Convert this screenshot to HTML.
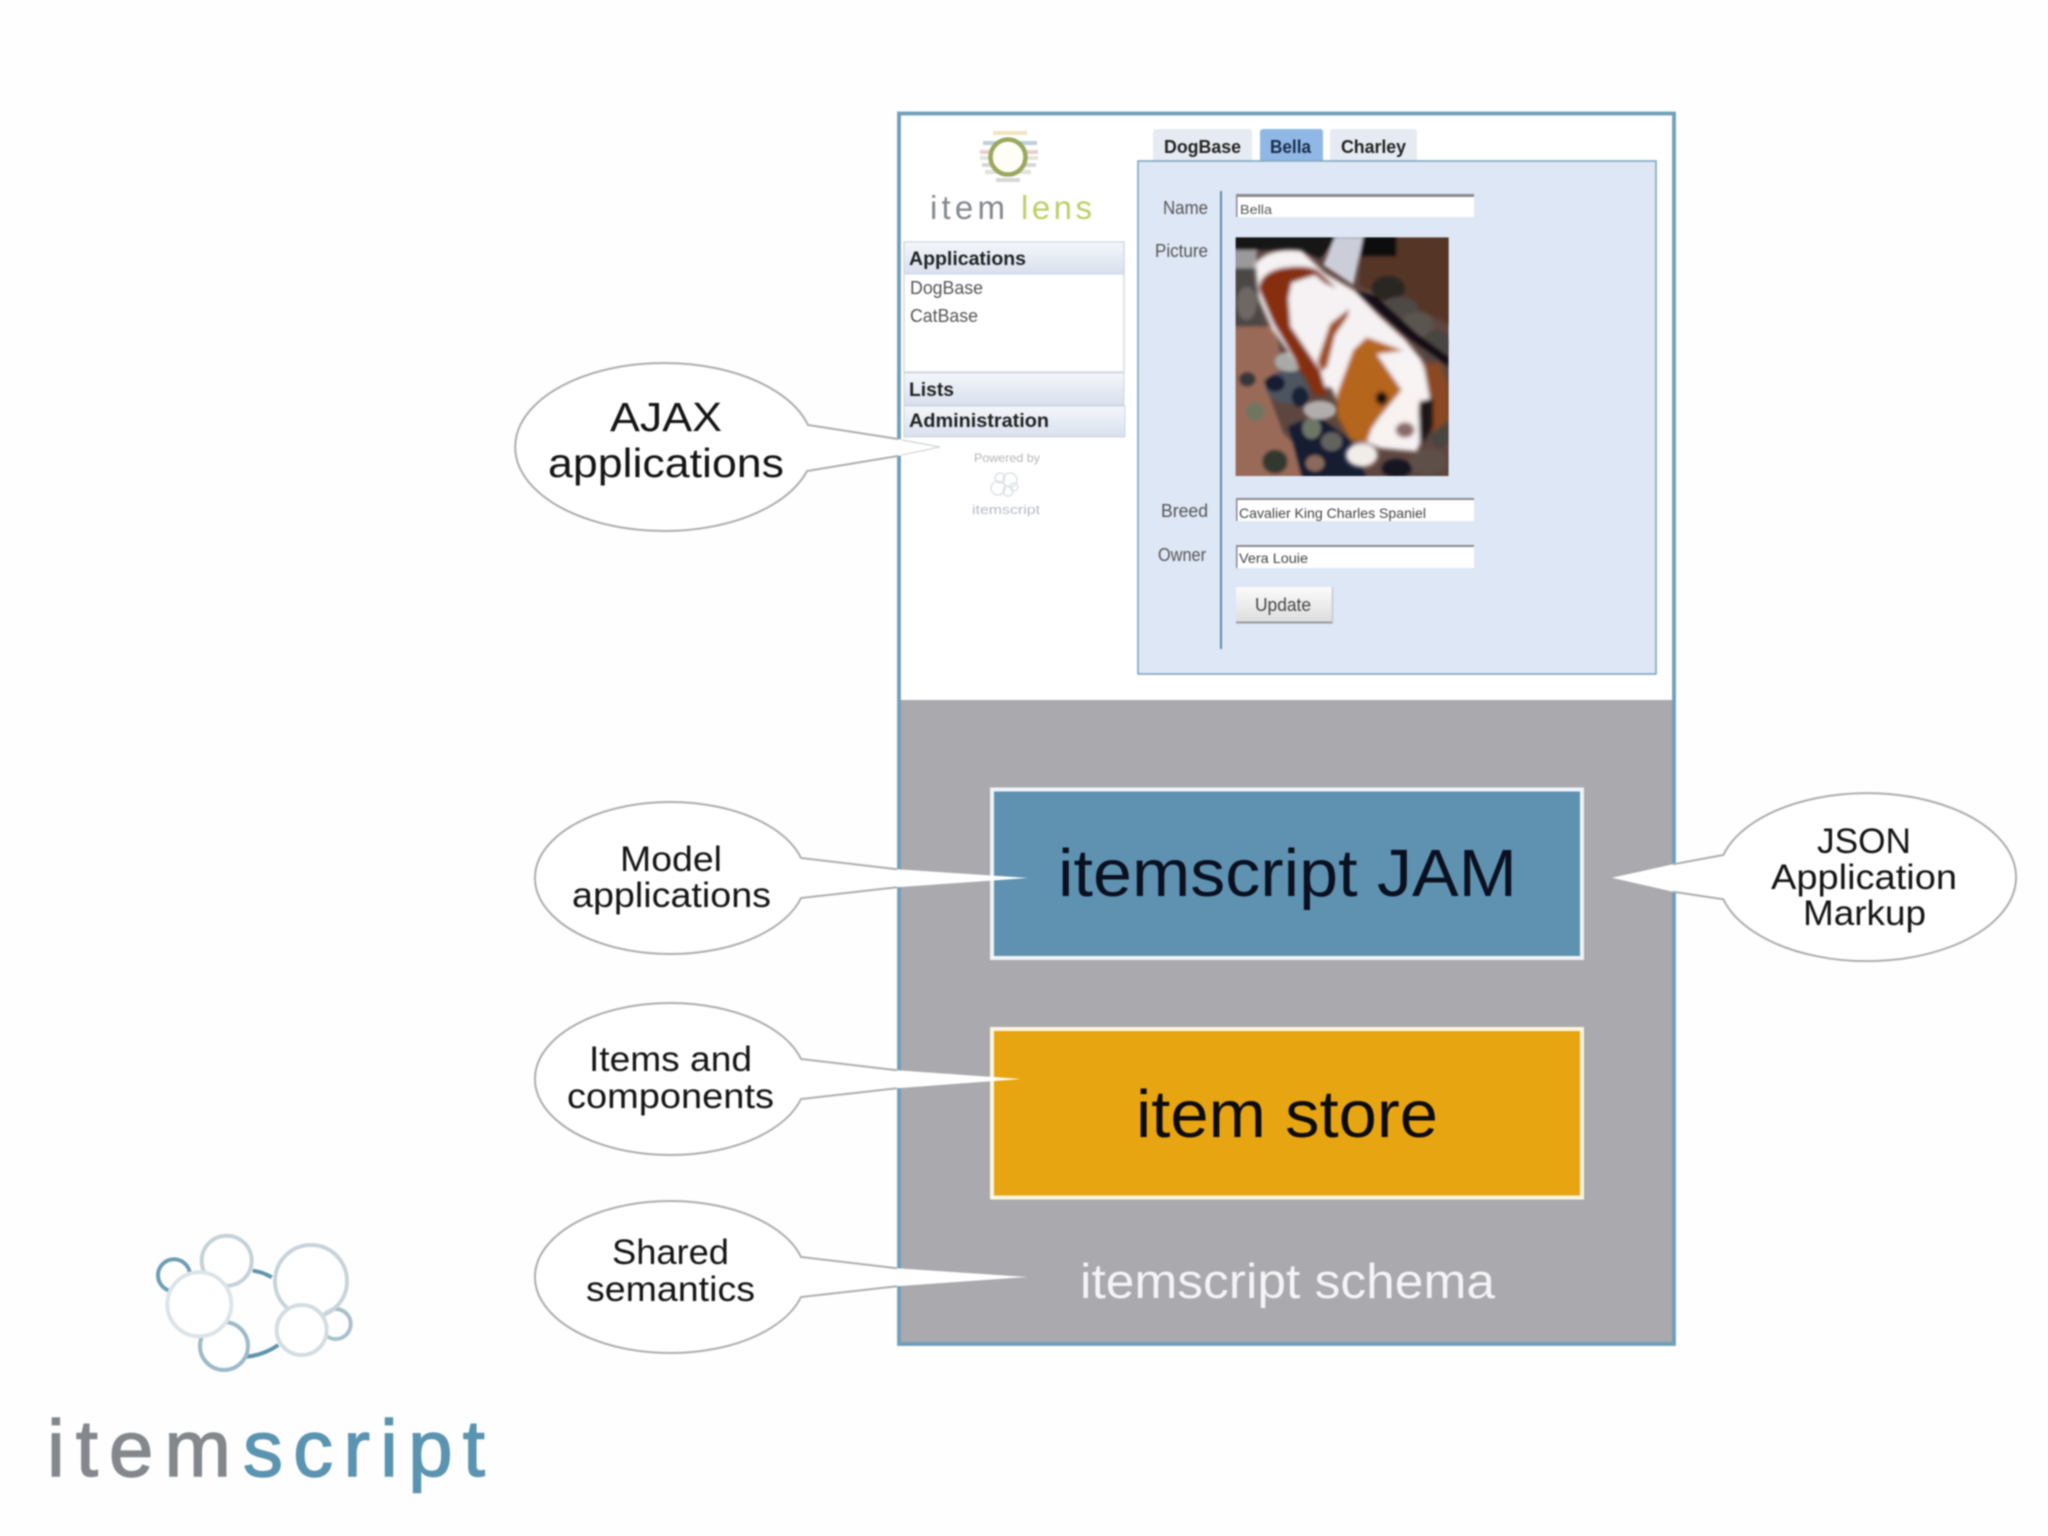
<!DOCTYPE html>
<html><head><meta charset="utf-8"><title>itemscript</title>
<style>
html,body{margin:0;padding:0;background:#fefefe;width:2048px;height:1536px;overflow:hidden}
svg{display:block;filter:blur(.8px)}
text{font-family:"Liberation Sans",sans-serif}
</style></head><body>
<svg xmlns="http://www.w3.org/2000/svg" width="2048" height="1536" viewBox="0 0 2048 1536">
<defs>
<linearGradient id="hd" x1="0" y1="0" x2="0" y2="1"><stop offset="0" stop-color="#f4f6fa"/><stop offset="1" stop-color="#d8e0ee"/></linearGradient>
<linearGradient id="btn" x1="0" y1="0" x2="0" y2="1"><stop offset="0" stop-color="#fbfbfb"/><stop offset="1" stop-color="#dcdcdc"/></linearGradient>
<filter id="b1" x="-20%" y="-20%" width="140%" height="140%"><feGaussianBlur stdDeviation="5"/></filter>
<filter id="b2" x="-20%" y="-20%" width="140%" height="140%"><feGaussianBlur stdDeviation="6"/></filter>
<clipPath id="dogclip"><rect x="47" y="52" width="639" height="716"/></clipPath>
</defs>
<rect width="2048" height="1536" fill="#fefefe"/>

<!-- outer frame -->
<rect x="899" y="113.5" width="775" height="1230.5" fill="#fff"/>
<rect x="899" y="700" width="775" height="644" fill="#a9a9ae"/>
<rect x="899" y="113.5" width="775" height="1230.5" fill="none" stroke="#6f9fb8" stroke-width="3.8"/>

<!-- tabs -->
<path d="M1153 161V132q0-3 3-3h93q3 0 3 3V161Z" fill="#e6ebf3"/>
<path d="M1260 161V132q0-3 3-3h57q3 0 3 3V161Z" fill="#8fb8e6"/>
<path d="M1330 161V132q0-3 3-3h81q3 0 3 3V161Z" fill="#e6ebf3"/>
<text x="1164" y="153" font-size="18" font-weight="bold" fill="#222" textLength="77" lengthAdjust="spacingAndGlyphs">DogBase</text>
<text x="1270" y="153" font-size="18" font-weight="bold" fill="#1b2b4a" textLength="41" lengthAdjust="spacingAndGlyphs">Bella</text>
<text x="1341" y="153" font-size="18" font-weight="bold" fill="#222" textLength="65" lengthAdjust="spacingAndGlyphs">Charley</text>

<!-- form panel -->
<rect x="1138" y="161" width="518" height="513" fill="#dee7f5" stroke="#7fa5bf" stroke-width="1.6"/>
<line x1="1221" y1="191" x2="1221" y2="649" stroke="#5f8dab" stroke-width="2"/>
<g font-size="18" fill="#555">
<text x="1163" y="214" textLength="45" lengthAdjust="spacingAndGlyphs">Name</text>
<text x="1155" y="257" textLength="53" lengthAdjust="spacingAndGlyphs">Picture</text>
<text x="1161" y="517" textLength="47" lengthAdjust="spacingAndGlyphs">Breed</text>
<text x="1158" y="561" textLength="48" lengthAdjust="spacingAndGlyphs">Owner</text>
</g>
<g fill="#fff">
<rect x="1236" y="194" width="238" height="23"/>
<rect x="1236" y="498" width="238" height="23"/>
<rect x="1236" y="545" width="238" height="23"/>
</g>
<g fill="#8a8a8e">
<rect x="1236" y="194" width="238" height="3"/>
<rect x="1236" y="498" width="238" height="2"/>
<rect x="1236" y="545" width="238" height="2"/>
<rect x="1236" y="194" width="1.5" height="23"/>
<rect x="1236" y="498" width="1.5" height="23"/>
<rect x="1236" y="545" width="1.5" height="23"/>
</g>
<text x="1240" y="214" font-size="13" fill="#555" textLength="32" lengthAdjust="spacingAndGlyphs">Bella</text>
<text x="1239" y="518" font-size="14" fill="#444" textLength="187" lengthAdjust="spacingAndGlyphs">Cavalier King Charles Spaniel</text>
<text x="1239" y="563" font-size="14" fill="#444" textLength="69" lengthAdjust="spacingAndGlyphs">Vera Louie</text>
<rect x="1236" y="587" width="97" height="36" fill="url(#btn)"/>
<line x1="1236" y1="622.5" x2="1333" y2="622.5" stroke="#9a9a9a" stroke-width="2"/>
<line x1="1332.5" y1="587" x2="1332.5" y2="623" stroke="#c8c8c8" stroke-width="1.5"/>
<text x="1255" y="611" font-size="18" fill="#444" textLength="56" lengthAdjust="spacingAndGlyphs">Update</text>

<!-- dog picture (coords from 3x crop) -->
<g transform="translate(1220 220) scale(.3333)" clip-path="url(#dogclip)">
<rect x="47" y="52" width="639" height="716" fill="#5e4640"/>
<g filter="url(#b1)">
<path d="M40 40H370L300 115 230 90 40 90Z" fill="#151215"/>
<path d="M430 40H530V110H420Z" fill="#0f0d10"/>
<path d="M345 50H430L400 195 310 135Z" fill="#cbced8"/>
<path d="M420 110H530V50H700V320L560 250 420 200Z" fill="#553628"/>
<path d="M40 90H110V145H40Z" fill="#9a9a9c"/>
<path d="M40 145H115L135 310 40 330Z" fill="#4c4644"/>
<ellipse cx="80" cy="250" rx="30" ry="50" fill="#6d6864"/>
<path d="M40 320H165L195 470 130 480 190 640 250 700 250 780H40Z" fill="#9a6a58"/>
<ellipse cx="505" cy="205" rx="50" ry="38" fill="#2c2624"/>
<ellipse cx="540" cy="265" rx="55" ry="35" fill="#4e4845"/>
<ellipse cx="590" cy="315" rx="50" ry="38" fill="#5a5450"/>
<ellipse cx="650" cy="375" rx="42" ry="45" fill="#4a4442"/>
<path d="M400 210 560 350 686 440 686 410 590 340 470 230Z" fill="#141113"/>
<ellipse cx="205" cy="500" rx="68" ry="50" fill="#4e5460"/>
<ellipse cx="165" cy="490" rx="30" ry="25" fill="#141f33"/>
<ellipse cx="240" cy="530" rx="25" ry="30" fill="#162034"/>
<ellipse cx="105" cy="575" rx="28" ry="28" fill="#6f7560"/>
<ellipse cx="82" cy="478" rx="25" ry="22" fill="#36343a"/>
<path d="M205 620 290 585 390 660 440 775H245Z" fill="#141e30"/>
<ellipse cx="275" cy="625" rx="28" ry="32" fill="#6e7668"/>
<ellipse cx="165" cy="725" rx="38" ry="36" fill="#32382e"/>
<ellipse cx="285" cy="730" rx="28" ry="24" fill="#8a6a5c"/>
<ellipse cx="335" cy="665" rx="32" ry="28" fill="#62625e"/>
<ellipse cx="625" cy="725" rx="55" ry="38" fill="#5e5048"/>
<ellipse cx="530" cy="745" rx="45" ry="28" fill="#181320"/>
<ellipse cx="660" cy="640" rx="28" ry="45" fill="#4a4540"/>
<ellipse cx="210" cy="425" rx="45" ry="30" fill="#a8aaa8"/>
<ellipse cx="300" cy="570" rx="50" ry="28" fill="#b0aeac"/>
</g>
<g filter="url(#b2)">
<path d="M105 130Q150 80 245 92L315 160 405 212 475 285 555 358 605 420 645 560 590 695 480 685 395 645 335 505 295 495 225 425 155 325 115 235Z" fill="#f6f2f3"/>
<path d="M115 205Q125 150 200 142 262 134 295 152L350 205 315 190 285 165 215 188 205 235 212 320 300 450 322 525 285 525 225 420 160 310Z" fill="#862f10"/>
<path d="M292 425 330 312 388 266 383 290 345 345 322 440 305 455Z" fill="#a04e22"/>
<path d="M352 590 350 525 400 390 440 352 550 392 470 402 545 510 480 590 455 625 440 668 392 660Z" fill="#b5651f"/>
<path d="M525 412 590 420 622 490 598 530 560 540 535 470Z" fill="#f8f4f4"/>
<path d="M610 430 660 430 686 500 686 600 640 640 630 540Z" fill="#8a4a20"/>
<path d="M595 545 640 535 640 620 600 680Z" fill="#1d1214"/>
<path d="M545 515 600 520 590 640 525 685 470 650 465 610 525 570Z" fill="#f8f2f0"/>
<ellipse cx="485" cy="535" rx="18" ry="20" fill="#100b0a"/>
<ellipse cx="555" cy="630" rx="28" ry="23" fill="#8a6a68"/>
<ellipse cx="425" cy="705" rx="48" ry="36" fill="#f2ede9"/>
</g>
</g>

<!-- logo item lens -->
<g stroke-width="4" opacity=".7">
<line x1="993" y1="133" x2="1027" y2="133" stroke="#ecd9a8"/>
<line x1="983" y1="143" x2="1037" y2="143" stroke="#9fbcd0"/>
<line x1="980" y1="152" x2="1038" y2="152" stroke="#dcbcbc"/>
<line x1="980" y1="158" x2="1038" y2="158" stroke="#d8d8c8"/>
<line x1="982" y1="165" x2="1036" y2="165" stroke="#c8c8c8"/>
<line x1="985" y1="172" x2="1031" y2="172" stroke="#d4d8c8"/>
<line x1="996" y1="180" x2="1020" y2="180" stroke="#c8c8c8"/>
</g>
<circle cx="1008" cy="157" r="17.5" fill="#fffef6" stroke="#9aa860" stroke-width="4.5"/>
<text x="930" y="219" font-size="33" fill="#84888c" textLength="75" lengthAdjust="spacing">item</text>
<text x="1021" y="219" font-size="33" fill="#bccf68" textLength="71" lengthAdjust="spacing">lens</text>

<!-- accordion -->
<rect x="904" y="242" width="220" height="130" fill="#fff" stroke="#d5d9e2" stroke-width="1.5"/>
<rect x="904" y="242" width="220" height="32" fill="url(#hd)" stroke="#cfd5e0"/>
<rect x="904" y="373" width="220" height="32" fill="url(#hd)" stroke="#cfd5e0"/>
<rect x="904" y="406" width="221" height="31" fill="url(#hd)" stroke="#cfd5e0"/>
<text x="909" y="265" font-size="19" font-weight="bold" fill="#222" textLength="117" lengthAdjust="spacingAndGlyphs">Applications</text>
<text x="910" y="294" font-size="18" fill="#555" textLength="73" lengthAdjust="spacingAndGlyphs">DogBase</text>
<text x="910" y="322" font-size="18" fill="#555" textLength="68" lengthAdjust="spacingAndGlyphs">CatBase</text>
<text x="909" y="396" font-size="19" font-weight="bold" fill="#222" textLength="45" lengthAdjust="spacingAndGlyphs">Lists</text>
<text x="909" y="427" font-size="19" font-weight="bold" fill="#222" textLength="140" lengthAdjust="spacingAndGlyphs">Administration</text>
<text x="974" y="462" font-size="12" fill="#b5b5b5" textLength="66" lengthAdjust="spacingAndGlyphs">Powered by</text>
<g fill="none" stroke="#dde3e7" stroke-width="1.5">
<circle cx="1000" cy="478" r="5"/><circle cx="1010" cy="480" r="7"/><circle cx="998" cy="488" r="7"/><circle cx="1008" cy="491" r="5"/><circle cx="1014" cy="487" r="4"/>
</g>
<text x="972" y="514" font-size="13" fill="#b2bcc4" textLength="68" lengthAdjust="spacingAndGlyphs">itemscript</text>

<!-- boxes -->
<rect x="992" y="789.5" width="590" height="168.5" fill="#5f92b0" stroke="#eef4f8" stroke-width="4"/>
<rect x="992" y="1029" width="590" height="168.5" fill="#e8a512" stroke="#fdf6e0" stroke-width="4"/>
<text x="1058" y="896" font-size="67" fill="#0a1020" textLength="459" lengthAdjust="spacingAndGlyphs">itemscript JAM</text>
<text x="1136" y="1137" font-size="67" fill="#0c0c10" textLength="302" lengthAdjust="spacingAndGlyphs">item store</text>
<text x="1080" y="1298" font-size="49" fill="#f4f4f6" textLength="415" lengthAdjust="spacingAndGlyphs">itemscript schema</text>

<!-- callouts: fill + tail, then outline -->
<g fill="#fff">
<path d="M808 425A149 84 0 1 0 807 471L898 456 940 447 898 439Z"/>
<path d="M801 858A135.4 76 0 1 0 801 898L897 887.3 1028 878 897 869.3Z"/>
<path d="M801 1059A135.4 76 0 1 0 801 1099L897 1088.3 1021 1079 897 1070.3Z"/>
<path d="M801 1257A135.4 76 0 1 0 801 1297L897 1286.3 1027 1277 897 1268.3Z"/>
<path d="M1723.3 855A149 84 0 1 1 1723.3 899.3L1673 891.7 1611.7 877.7 1673 864.3Z"/>
</g>
<g fill="none" stroke="#adadad" stroke-width="2">
<path d="M898 439L808 425A149 84 0 1 0 807 471L898 456"/>
<path d="M897 869.3L801 858A135.4 76 0 1 0 801 898L897 887.3"/>
<path d="M897 1070.3L801 1059A135.4 76 0 1 0 801 1099L897 1088.3"/>
<path d="M897 1268.3L801 1257A135.4 76 0 1 0 801 1297L897 1286.3"/>
<path d="M1673 864.3L1723.3 855A149 84 0 1 1 1723.3 899.3L1673 891.7"/>
</g>
<path d="M902 440L940 447 902 455" fill="none" stroke="#d8d8d8" stroke-width="1.4"/>
<g font-size="41" fill="#141414">
<text x="610" y="431" textLength="112" lengthAdjust="spacingAndGlyphs">AJAX</text>
<text x="548" y="477" textLength="236" lengthAdjust="spacingAndGlyphs">applications</text>
</g>
<g font-size="35" fill="#141414">
<text x="620" y="871" textLength="102" lengthAdjust="spacingAndGlyphs">Model</text>
<text x="572" y="907" textLength="199" lengthAdjust="spacingAndGlyphs">applications</text>
<text x="589" y="1071" textLength="163" lengthAdjust="spacingAndGlyphs">Items and</text>
<text x="567" y="1108" textLength="207" lengthAdjust="spacingAndGlyphs">components</text>
<text x="612" y="1264" textLength="117" lengthAdjust="spacingAndGlyphs">Shared</text>
<text x="586" y="1301" textLength="169" lengthAdjust="spacingAndGlyphs">semantics</text>
<text x="1817" y="853" textLength="94" lengthAdjust="spacingAndGlyphs">JSON</text>
<text x="1771" y="889" textLength="186" lengthAdjust="spacingAndGlyphs">Application</text>
<text x="1803" y="925" textLength="123" lengthAdjust="spacingAndGlyphs">Markup</text>
</g>

<!-- itemscript logo -->
<g fill="#fff" fill-opacity=".6" stroke-width="4">
<path d="M252.7 1270.7Q263 1272 271.7 1277.3" fill="none" stroke="#5f94ae"/>
<path d="M246.7 1356.7Q264 1355 278.3 1345" fill="none" stroke="#5f94ae"/>
<circle cx="224" cy="1346" r="24" stroke="#9dbac8"/>
<circle cx="226.7" cy="1260.7" r="25" stroke="#c5d2d8"/>
<circle cx="174" cy="1275.3" r="16" stroke="#6f9db4"/>
<circle cx="199.3" cy="1304.3" r="32" stroke="#dce4e8" fill-opacity="1"/>
<circle cx="335.7" cy="1324" r="15" stroke="#a9c0cb"/>
<circle cx="311" cy="1281" r="36" stroke="#c8d4da"/>
<circle cx="301.7" cy="1330" r="25" stroke="#d3dde1" fill-opacity="1"/>
</g>
<text x="47" y="1476" font-size="80" fill="#84888c" stroke="#84888c" stroke-width="1.4" textLength="184" lengthAdjust="spacing">item</text>
<text x="243" y="1476" font-size="80" fill="#5a94b0" stroke="#5a94b0" stroke-width="1.4" textLength="242" lengthAdjust="spacing">script</text>
</svg>
</body></html>
